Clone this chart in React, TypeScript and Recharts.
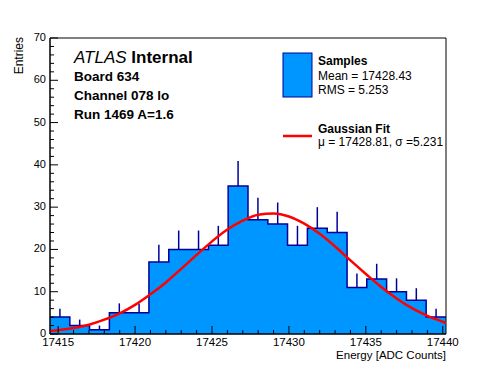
import React from 'react';
import { ComposedChart, Area, Line, Scatter, ErrorBar, XAxis, YAxis, ReferenceArea } from 'recharts';

// Histogram bin edges (ADC counts) and bin contents
const binEdges = [
  17414.47, 17415.76, 17417.04, 17418.33, 17419.62, 17420.9, 17422.19, 17423.48, 17424.77, 17426.05,
  17427.34, 17428.63, 17429.91, 17431.2, 17432.49, 17433.78, 17435.06, 17436.35, 17437.64, 17438.92, 17440.21,
];
const counts = [4, 2, 1, 5, 5, 17, 20, 20, 21, 35, 27, 26, 21, 25, 24, 11, 13, 10, 8, 4];
// upper error bar lengths (entries)
const errUp = [2, 1.41, 1, 2.24, 2.24, 4.12, 4.47, 4.47, 4.58, 5.92, 5.2, 5.1, 4.58, 5, 4.9, 3.32, 3.61, 3.16, 2.83, 2];

// Gaussian fit curve points
const fitX = [
  17414.47, 17415, 17416, 17417, 17418, 17419, 17420, 17421, 17422, 17423, 17424, 17425, 17426, 17427,
  17428, 17429, 17430, 17431, 17432, 17433, 17434, 17435, 17436, 17437, 17438, 17439, 17440, 17440.21,
];
const fitY = [
  0.7, 0.9, 1.4, 2.2, 3.4, 4.9, 6.9, 9.4, 12.2, 15.4, 18.7, 21.9, 24.7, 26.8,
  28.2, 28.5, 27.8, 26.1, 23.7, 20.7, 17.4, 14.2, 11.1, 8.4, 6.1, 4.3, 2.9, 2.6,
];

const xTicks = [
  17415, 17416, 17417, 17418, 17419, 17420, 17421, 17422, 17423, 17424, 17425, 17426, 17427,
  17428, 17429, 17430, 17431, 17432, 17433, 17434, 17435, 17436, 17437, 17438, 17439, 17440,
];
const yTicks = [0, 2, 4, 6, 8, 10, 12, 14, 16, 18, 20, 22, 24, 26, 28, 30, 32, 34, 36, 38, 40, 42, 44, 46, 48, 50, 52, 54, 56, 58, 60, 62, 64, 66, 68, 70];

const X_MIN = binEdges[0];
const X_MAX = binEdges[binEdges.length - 1];

const histData = binEdges.map((x, i) => ({ x, y: counts[Math.min(i, counts.length - 1)] }));
const errData = counts.map((c, i) => ({ x: (binEdges[i] + binEdges[i + 1]) / 2, y: c, err: [0, errUp[i]] }));
const fitData = fitX.map((x, i) => ({ x, fit: fitY[i] }));

const FONT = '"Liberation Sans", Arial, Helvetica, sans-serif';
const FILL = '#0096ff';
const EDGE = '#000099';

const XTick = (props: any) => {
  const { x, y, payload } = props;
  const major = payload.value % 5 === 0;
  return (
    <g>
      <line x1={x} x2={x} y1={y} y2={y - (major ? 8 : 4)} stroke="#000" strokeWidth={1} />
      {major && (
        <text x={x} y={y + 12} textAnchor="middle" fontSize={11.5} fontFamily={FONT} fill="#000">
          {payload.value}
        </text>
      )}
    </g>
  );
};

const YTick = (props: any) => {
  const { x, y, payload } = props;
  const major = payload.value % 10 === 0;
  return (
    <g>
      <line x1={x} x2={x + (major ? 8 : 4)} y1={y} y2={y} stroke="#000" strokeWidth={1} />
      {major && (
        <text x={x - 4} y={y + 3} textAnchor="end" fontSize={11} fontFamily={FONT} fill="#000">
          {payload.value}
        </text>
      )}
    </g>
  );
};

export default function App() {
  return (
    <div style={{ position: 'absolute', left: 0, top: 0, width: 496, height: 372, background: '#fff' }}>
      <ComposedChart
        width={496}
        height={372}
        margin={{ top: 38, right: 50, bottom: 37, left: 49 }}
        style={{ position: 'absolute', left: 0, top: 0 }}
      >
        <Scatter
          data={errData}
          dataKey="y"
          isAnimationActive={false}
          shape={() => <g />}
        >
          <ErrorBar dataKey="err" direction="y" width={0} stroke={EDGE} strokeWidth={1.5} />
        </Scatter>
        <Area
          data={histData}
          dataKey="y"
          type="stepAfter"
          stroke={EDGE}
          strokeWidth={1.5}
          fill={FILL}
          fillOpacity={1}
          isAnimationActive={false}
          dot={false}
          activeDot={false}
        />
        <Line
          data={fitData}
          dataKey="fit"
          type="monotone"
          stroke="#ff0000"
          strokeWidth={2.5}
          dot={false}
          activeDot={false}
          isAnimationActive={false}
        />
        <ReferenceArea x1={X_MIN} x2={X_MAX} y1={0} y2={70} fill="none" stroke="#000" strokeWidth={1} ifOverflow="visible" />
        <XAxis
          dataKey="x"
          type="number"
          domain={[X_MIN, X_MAX]}
          ticks={xTicks}
          interval={0}
          allowDataOverflow
          height={1}
          tickSize={0}
          tickMargin={0}
          tickLine={false}
          axisLine={{ stroke: '#000', strokeWidth: 1 }}
          tick={XTick}
        />
        <YAxis
          type="number"
          domain={[0, 70]}
          ticks={yTicks}
          interval={0}
          allowDataOverflow
          width={1}
          tickSize={0}
          tickMargin={0}
          tickLine={false}
          axisLine={{ stroke: '#000', strokeWidth: 1 }}
          tick={YTick}
        />
      </ComposedChart>
      <svg
        width={496}
        height={372}
        style={{ position: 'absolute', left: 0, top: 0, pointerEvents: 'none' }}
        fontFamily={FONT}
      >
        <text x={74} y={63} fontSize={17} fill="#000">
          <tspan fontStyle="italic">ATLAS</tspan>
          <tspan fontWeight="bold"> Internal</tspan>
        </text>
        <text x={74} y={81} fontSize={13.5} fontWeight="bold" fill="#000">Board 634</text>
        <text x={74} y={100} fontSize={13.5} fontWeight="bold" fill="#000">Channel 078 lo</text>
        <text x={74} y={119} fontSize={13.5} fontWeight="bold" fill="#000">Run 1469 A=1.6</text>

        <rect x={283} y={53} width={29} height={44} fill={FILL} stroke={EDGE} strokeWidth={1} />
        <text x={318} y={65} fontSize={12} fontWeight="bold" fill="#000">Samples</text>
        <text x={318} y={80} fontSize={12} fill="#000">Mean = 17428.43</text>
        <text x={318} y={94} fontSize={12} fill="#000">RMS = 5.253</text>

        <line x1={283} x2={312} y1={136} y2={136} stroke="#ff0000" strokeWidth={2.5} />
        <text x={318} y={133} fontSize={12} fontWeight="bold" fill="#000">Gaussian Fit</text>
        <text x={318} y={146} fontSize={12} fill="#000">μ = 17428.81, σ =5.231</text>

        <text transform="translate(23,37) rotate(-90)" textAnchor="end" fontSize={12} fill="#000">Entries</text>
        <text x={446} y={359} textAnchor="end" fontSize={11.5} fill="#000">Energy [ADC Counts]</text>
      </svg>
    </div>
  );
}
